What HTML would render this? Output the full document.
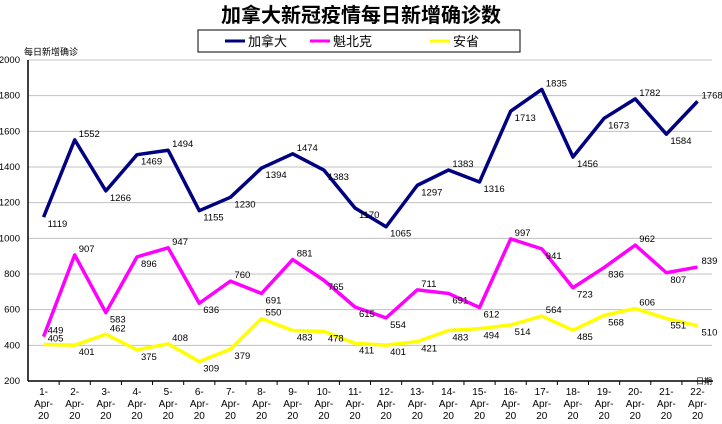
<!DOCTYPE html>
<html><head><meta charset="utf-8"><style>body{margin:0;background:#fff}svg{display:block}</style></head>
<body>
<svg id="s" width="722" height="424" xmlns="http://www.w3.org/2000/svg" font-family="Liberation Sans, Noto Sans CJK SC, sans-serif"></svg>
<script>
const s=document.getElementById('s');let h='';
const X0=28,W=31.14,Y=v=>381-(v-200)*321/1800,X=i=>X0+W*(i+0.5);
h+='<text x="361" y="22" text-anchor="middle" font-size="20" font-weight="bold" font-family="Noto Sans CJK SC, sans-serif">加拿大新冠疫情每日新增确诊数</text>';
h+='<text x="24" y="55" font-size="9" font-family="Noto Sans CJK SC, sans-serif">每日新增确诊</text>';
for(let v=200;v<=2000;v+=200){const y=Y(v);if(v>200)h+=`<line x1="28" x2="712" y1="${y}" y2="${y}" stroke="#c0c0c0"/>`;h+=`<text x="20" y="${y+3}" font-size="9.5" text-anchor="end">${v}</text>`;}
h+='<line x1="28" y1="60" x2="28" y2="381" stroke="#000" stroke-width="1.5"/><line x1="28" y1="381" x2="713" y1="381" y2="381" stroke="#000" stroke-width="1.5"/>';
for(let i=0;i<22;i++){const x=X(i);if(i<21)h+=`<line x1="${X0+W*(i+1)}" x2="${X0+W*(i+1)}" y1="381" y2="385" stroke="#000"/>`;
h+=`<text font-size="10" text-anchor="middle"><tspan x="${x}" y="395">${i+1}-</tspan><tspan x="${x}" y="407">Apr-</tspan><tspan x="${x}" y="419">20</tspan></text>`;}
h+='<text x="696" y="384" font-size="8" font-family="Noto Sans CJK SC, sans-serif">日期</text>';
const D=[[ '#000080',[1119,1552,1266,1469,1494,1155,1230,1394,1474,1383,1170,1065,1297,1383,1316,1713,1835,1456,1673,1782,1584,1768]],
['#ff00ff',[449,907,583,896,947,636,760,691,881,765,615,554,711,691,612,997,941,723,836,962,807,839]],
['#ffff00',[405,401,462,375,408,309,379,550,483,478,411,401,421,483,494,514,564,485,568,606,551,510]]];
for(const [c,d] of D){h+=`<polyline fill="none" stroke="${c}" stroke-width="3.5" stroke-linejoin="round" points="${d.map((v,i)=>X(i)+','+Y(v)).join(' ')}"/>`;}
D.forEach(([c,d],k)=>{d.forEach((v,i)=>{let pk=(i==0||v>=d[i-1])&&(i==21||v>=d[i+1]);if(k==1&&i==0)pk=true;const y=pk?Y(v)-3:Y(v)+10;h+=`<text x="${X(i)+4}" y="${y}" font-size="9.5">${v}</text>`;});});
h+='<rect x="198" y="30" width="322" height="22" fill="#fff" stroke="#000"/>';
[['#000080','加拿大',225],['#ff00ff','魁北克',310],['#ffff00','安省',430]].forEach(([c,t,x])=>{h+=`<line x1="${x}" x2="${x+20}" y1="41" y2="41" stroke="${c}" stroke-width="3"/><text x="${x+23}" y="46" font-size="13" font-family="Noto Sans CJK SC, sans-serif">${t}</text>`;});
s.innerHTML=h;
</script>
</body></html>
